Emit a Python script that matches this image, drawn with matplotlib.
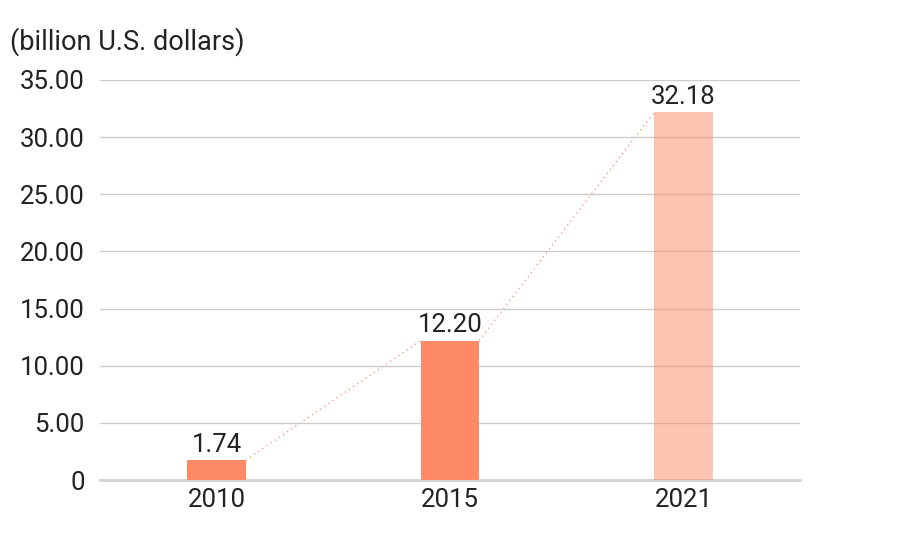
import numpy as np
import matplotlib.pyplot as plt

plt.rcParams['font.family'] = ['Roboto', 'DejaVu Sans']

years = ["2010", "2015", "2021"]
values = [1.74, 12.20, 32.18]
alphas = [1.0, 1.0, 0.5]
yticks = [0, 5, 10, 15, 20, 25, 30, 35]
ytick_labels = ["0", "5.00", "10.00", "15.00", "20.00", "25.00", "30.00", "35.00"]

color = "#FF8A65"
width = 0.25

fig = plt.figure(figsize=(9, 5.4), dpi=100)
ax = fig.add_axes([0.111, 0.111, 0.778, 0.741])

x = np.arange(len(years))
for xi, v, a in zip(x, values, alphas):
    ax.bar(xi, v, width=width, color=color, alpha=a, zorder=3)
    ax.text(xi, v + 0.3, f"{v:.2f}", ha="center", va="bottom",
            fontsize=18.5, color="#222222", zorder=4)

# dotted connector from top-right of one bar to top-left of the next
for i in range(len(values) - 1):
    ax.plot([x[i] + width / 2, x[i + 1] - width / 2], [values[i], values[i + 1]],
            linestyle=(0, (1, 3)), color=color, linewidth=0.9, zorder=2)

ax.set_xlim(-0.5, 2.5)
ax.set_ylim(0, 35)
ax.set_xticks(x)
ax.set_xticklabels(years)
ax.set_yticks(yticks)
ax.set_yticklabels(ytick_labels)
ax.tick_params(axis="both", length=0, labelsize=18.5, colors="#222222")
ax.tick_params(axis="y", pad=11)
ax.tick_params(axis="x", pad=6)

ax.yaxis.grid(True, color="#cccccc", linewidth=1, zorder=1)
ax.set_axisbelow(False)
for s in ["top", "right", "left"]:
    ax.spines[s].set_visible(False)
ax.spines["bottom"].set_color("#d4d4d4")
ax.spines["bottom"].set_linewidth(2)

fig.text(0.011, 0.922, "(billion U.S. dollars)", fontsize=19.5, color="#222222",
         ha="left", va="center")

fig.savefig("out.png", dpi=100)
